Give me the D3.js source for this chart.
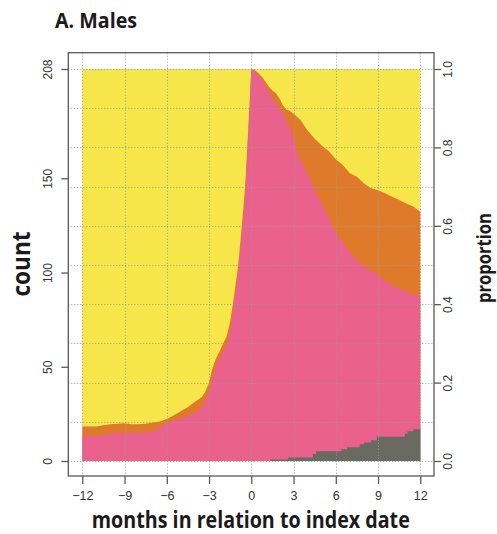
<!DOCTYPE html>
<html>
<head>
<meta charset="utf-8">
<script src="https://cdn.jsdelivr.net/npm/d3@7"></script>
<style>
  html, body { margin: 0; padding: 0; background: #fff; }
  svg { display: block; }
</style>
</head>
<body>
<svg id="chart" width="497" height="534"></svg>
<script>
// ---- data ----
const months = [-12,-11.5,-11,-10.5,-10,-9.5,-9,-8.5,-8,-7.5,-7,-6.5,-6,-5.5,-5,-4.5,-4,-3.5,
  -3.25,-3,-2.75,-2.5,-2.25,-2,-1.75,-1.5,-1.25,-1,
  -0.875,-0.75,-0.625,-0.5,-0.375,-0.25,-0.125,0,
  0.25,0.5,0.75,1,1.25,1.5,1.75,2,2.25,2.5,2.75,3,3.25,3.5,
  4,4.5,5,5.5,6,6.5,7,7.5,8,8.5,9,9.5,10,10.5,11,11.5,12];
// cumulative proportion at top of the pink band (gray + pink)
const pinkTop = [.064,.064,.064,.067,.070,.071,.072,.071,.072,.073,.076,.084,.096,.103,.109,.115,.122,.138,
  .152,.177,.212,.242,.262,.28,.295,.33,.39,.46,
  .5,.55,.6,.65,.72,.81,.9,1.0,
  .993,.985,.975,.958,.94,.925,.912,.896,.887,.867,.85,.824,.788,.766,
  .732,.692,.656,.619,.582,.558,.532,.512,.496,.486,.474,.458,.449,.44,.432,.424,.42];
// cumulative proportion at top of the orange band
const orangeTop = [.088,.088,.088,.091,.094,.095,.096,.094,.094,.095,.098,.101,.107,.117,.127,.138,.151,.163,
  .178,.2,.238,.262,.28,.3,.318,.355,.415,.48,
  .52,.57,.62,.67,.74,.825,.91,1.0,
  .997,.99,.98,.968,.955,.945,.938,.925,.907,.897,.893,.886,.878,.869,
  .843,.822,.805,.79,.77,.755,.734,.725,.708,.696,.691,.683,.674,.666,.657,.649,.636];
// gray band (step data)
const grayMonths = [-12,1.35,2.6,4.37,4.6,6.4,6.8,7.7,8.0,8.5,8.9,10.9,11.1,11.5,12];
const grayTop = [0,.004,.009,.018,.025,.03,.035,.043,.047,.053,.062,.07,.076,.081,.081];

const xTicks = [-12,-9,-6,-3,0,3,6,9,12];
const countTicks = [0,50,100,150,208];
const propTicks = [0,0.2,0.4,0.6,0.8,1.0];
const gridProp = [0,0.1,0.2,0.3,0.4,0.5,0.6,0.7,0.8,0.9,1.0];
const countMax = 208;

const title = "A. Males";
const xTitle = "months in relation to index date";
const yLeftTitle = "count";
const yRightTitle = "proportion";

// ---- layout ----
const svg = d3.select("#chart");
const box = {l: 68.3, r: 434, t: 52.7, b: 476};
const x = d3.scaleLinear().domain([-12, 12]).range([82.3, 420.3]);
const y = d3.scaleLinear().domain([0, 1]).range([461, 69]);
const yc = d3.scaleLinear().domain([0, countMax]).range([461, 69]);

const col = {yellow: "#f6e64a", orange: "#e07a2b", pink: "#e9618c", gray: "#696a62"};

const pts = months.map((m, i) => ({m, p: pinkTop[i], o: orangeTop[i]}));

// yellow (full)
svg.append("path")
  .datum(pts)
  .attr("fill", col.yellow)
  .attr("d", d3.area().x(d => x(d.m)).y0(y(0)).y1(y(1)));
// orange
svg.append("path")
  .datum(pts)
  .attr("fill", col.orange)
  .attr("d", d3.area().x(d => x(d.m)).y0(y(0)).y1(d => y(d.o)));
// pink
svg.append("path")
  .datum(pts)
  .attr("fill", col.pink)
  .attr("d", d3.area().x(d => x(d.m)).y0(y(0)).y1(d => y(d.p)));
// gray
svg.append("path")
  .datum(grayMonths.map((m, i) => ({m, g: grayTop[i]})))
  .attr("fill", col.gray)
  .attr("d", d3.area().curve(d3.curveStepAfter).x(d => x(d.m)).y0(y(0)).y1(d => y(d.g)));

// grid
const grid = svg.append("g").attr("stroke", "#9a9a9a").attr("stroke-width", 1).attr("stroke-dasharray", "1,2");
grid.selectAll("line.h").data(gridProp).join("line")
  .attr("x1", box.l).attr("x2", box.r)
  .attr("y1", d => Math.round(y(d)) + 0.5).attr("y2", d => Math.round(y(d)) + 0.5);
grid.selectAll("line.v").data(xTicks).join("line")
  .attr("y1", box.t).attr("y2", box.b)
  .attr("x1", d => Math.round(x(d)) + 0.5).attr("x2", d => Math.round(x(d)) + 0.5);

// box
svg.append("rect")
  .attr("x", box.l).attr("y", box.t)
  .attr("width", box.r - box.l).attr("height", box.b - box.t)
  .attr("fill", "none").attr("stroke", "#5a5a5a").attr("stroke-width", 1.3);

const tickFont = "'Liberation Sans', Arial, sans-serif";

// bottom axis
const ax = svg.append("g").attr("transform", `translate(0,${box.b})`)
  .call(d3.axisBottom(x).tickValues(xTicks).tickSize(8).tickFormat(d => d < 0 ? "\u2212" + Math.abs(d) : d));
ax.select(".domain").remove();
ax.selectAll(".tick line").attr("stroke", "#5a5a5a").attr("stroke-width", 1.3);
ax.selectAll(".tick text").attr("y", 24).attr("dy", 0).attr("fill", "#333")
  .style("font-family", tickFont).style("font-size", "12.5px");

// left axis
const al = svg.append("g").attr("transform", `translate(${box.l},0)`)
  .call(d3.axisLeft(yc).tickValues(countTicks).tickSize(7));
al.select(".domain").remove();
al.selectAll(".tick line").attr("stroke", "#5a5a5a").attr("stroke-width", 1.3);
al.selectAll(".tick text").attr("x", 0).attr("dy", 0)
  .attr("text-anchor", "middle").attr("transform", "translate(-16.5,0) rotate(-90)")
  .attr("fill", "#333").style("font-family", tickFont).style("font-size", "12px");

// right axis
const ar = svg.append("g").attr("transform", `translate(${box.r},0)`)
  .call(d3.axisRight(y).tickValues(propTicks).tickSize(7).tickFormat(d3.format(".1f")));
ar.select(".domain").remove();
ar.selectAll(".tick line").attr("stroke", "#5a5a5a").attr("stroke-width", 1.3);
ar.selectAll(".tick text").attr("x", 0).attr("dy", 0)
  .attr("text-anchor", "middle").attr("transform", "translate(17.7,0) rotate(-90)")
  .attr("fill", "#333").style("font-family", tickFont).style("font-size", "12px");

// titles
const boldFont = "'Open Sans', 'Noto Sans', sans-serif";
function fitText(sel, w) {
  const len = sel.node().getComputedTextLength();
  if (len > w) sel.attr("textLength", w).attr("lengthAdjust", "spacingAndGlyphs");
}
const t1 = svg.append("text").attr("x", 55).attr("y", 28.3)
  .style("font-family", boldFont).style("font-weight", 700).style("font-size", "21px")
  .attr("fill", "#1a1a1a").text(title);
fitText(t1, 82);

const t2 = svg.append("text").attr("x", 250.8).attr("y", 528.3).attr("text-anchor", "middle")
  .style("font-family", boldFont).style("font-weight", 700).style("font-size", "23px")
  .attr("fill", "#1a1a1a").text(xTitle);
fitText(t2, 318);

const t3 = svg.append("text").attr("text-anchor", "middle")
  .attr("transform", "translate(30,264) rotate(-90)")
  .style("font-family", boldFont).style("font-weight", 700).style("font-size", "25px")
  .attr("fill", "#1a1a1a").text(yLeftTitle);
fitText(t3, 65);

const t4 = svg.append("text").attr("text-anchor", "middle")
  .attr("transform", "translate(491,258) rotate(-90)")
  .style("font-family", boldFont).style("font-weight", 700).style("font-size", "20px")
  .attr("fill", "#1a1a1a").text(yRightTitle);
fitText(t4, 90);
</script>
</body>
</html>
